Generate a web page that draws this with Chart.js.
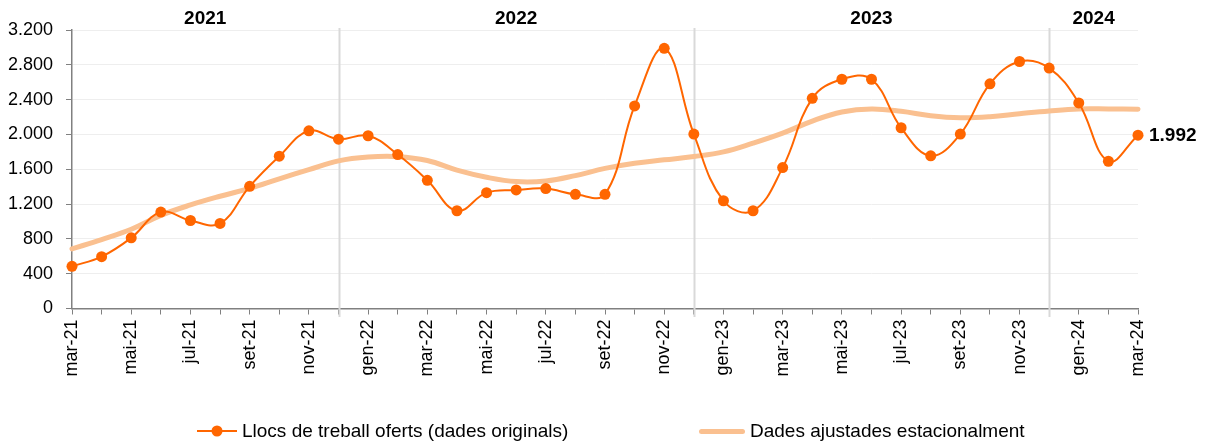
<!DOCTYPE html>
<html>
<head>
<meta charset="utf-8">
<script src="https://cdn.jsdelivr.net/npm/chart.js@4.4.1/dist/chart.umd.min.js"></script>
<style>
  html, body { margin: 0; padding: 0; background: #fff; }
  #wrap { position: relative; width: 1210px; height: 448px; overflow: hidden; }
  #chart { display: block; }
  .leg { position: absolute; top: 420px; height: 22px; display: flex; align-items: center;
         font-family: "Liberation Sans", Arial, sans-serif; font-size: 19px; color: #000; white-space: nowrap; }
  .mk { position: relative; height: 22px; margin-right: 5px; }
  .mk .ln { position: absolute; left: 0; right: 0; top: 50%; }
  .mk .dot { position: absolute; width: 11px; height: 11px; border-radius: 50%; top: 50%; left: 50%;
             transform: translate(-50%, -50%); background: #FF6600; }
</style>
</head>
<body>
<div id="wrap">
  <canvas id="chart" width="1210" height="448"></canvas>
  <div class="leg" style="left:197px">
    <div class="mk" style="width:40px"><div class="ln" style="height:2px;margin-top:-1px;background:#FF6600"></div><div class="dot"></div></div>
    <span id="leg1"></span>
  </div>
  <div class="leg" style="left:699px">
    <div class="mk" style="width:46px"><div class="ln" style="height:5px;margin-top:-2.5px;background:#FAC090;border-radius:3px"></div></div>
    <span id="leg2"></span>
  </div>
</div>
<script>
// ---- data ----
const categories = ['mar-21','abr-21','mai-21','jun-21','jul-21','ago-21','set-21','oct-21','nov-21','des-21',
  'gen-22','feb-22','mar-22','abr-22','mai-22','jun-22','jul-22','ago-22','set-22','oct-22','nov-22','des-22',
  'gen-23','feb-23','mar-23','abr-23','mai-23','jun-23','jul-23','ago-23','set-23','oct-23','nov-23','des-23',
  'gen-24','feb-24','mar-24'];
const originalValues = [485, 596, 812, 1108, 1011, 977, 1404, 1750, 2042, 1945,
  1985, 1769, 1473, 1123, 1331, 1362, 1378, 1312, 1312, 2327, 2989, 2004,
  1238, 1123, 1619, 2415, 2634, 2634, 2077, 1754, 2004, 2581, 2838, 2762,
  2362, 1692, 1992];
const adjustedValues = [685, 792, 910, 1070, 1190, 1290, 1380, 1490, 1595, 1696,
  1740, 1745, 1700, 1590, 1508, 1458, 1465, 1527, 1610, 1669, 1708, 1746,
  1800, 1900, 2015, 2154, 2258, 2293, 2266, 2215, 2192, 2204, 2238, 2270,
  2293, 2293, 2290];
const seriesNames = ['Llocs de treball oferts (dades originals)', 'Dades ajustades estacionalment'];
const yearLabels = ['2021', '2022', '2023', '2024'];
const yearBreaks = [9, 21, 33];          // index of December of each year
const yTicks = [0, 400, 800, 1200, 1600, 2000, 2400, 2800, 3200];

document.getElementById('leg1').textContent = seriesNames[0];
document.getElementById('leg2').textContent = seriesNames[1];

const fmt = v => String(v).replace(/\B(?=(\d{3})+(?!\d))/g, '.');
const FONT = '"Liberation Sans", Arial, sans-serif';
Chart.defaults.font.family = FONT;
Chart.defaults.color = '#000';

const overlay = {
  id: 'overlay',
  beforeDatasetsDraw(chart) {
    const { ctx, scales: { x } } = chart;
    ctx.save();
    ctx.strokeStyle = '#d9d9d9';
    ctx.lineWidth = 2;
    yearBreaks.forEach(i => {
      const px = Math.round(x.getPixelForValue(i)) + 0.5;
      ctx.beginPath(); ctx.moveTo(px, 28); ctx.lineTo(px, 317); ctx.stroke();
    });
    ctx.restore();
  },
  afterDatasetsDraw(chart) {
    const { ctx, scales: { x, y } } = chart;
    ctx.save();
    ctx.fillStyle = '#000';
    ctx.font = 'bold 19px ' + FONT;
    ctx.textAlign = 'center';
    ctx.textBaseline = 'middle';
    const bounds = [0, ...yearBreaks, categories.length - 1];
    yearLabels.forEach((lab, k) => {
      const c = (bounds[k] + bounds[k + 1]) / 2;
      ctx.fillText(lab, x.getPixelForValue(c), 19);
    });
    const last = originalValues.length - 1;
    ctx.textAlign = 'left';
    ctx.fillText(fmt(originalValues[last]), x.getPixelForValue(last) + 11, y.getPixelForValue(originalValues[last]) + 1);
    ctx.restore();
  }
};

new Chart(document.getElementById('chart'), {
  type: 'line',
  data: {
    labels: categories,
    datasets: [
      {
        label: seriesNames[0],
        data: originalValues,
        borderColor: '#FF6600',
        backgroundColor: '#FF6600',
        borderWidth: 2,
        pointRadius: 5.5,
        pointBorderWidth: 0,
        pointBackgroundColor: '#FF6600',
        tension: 0.4,
        clip: false
      },
      {
        label: seriesNames[1],
        data: adjustedValues,
        borderColor: '#FAC090',
        borderWidth: 5,
        pointRadius: 0,
        tension: 0.4,
        borderCapStyle: 'round',
        clip: false
      }
    ]
  },
  options: {
    responsive: false,
    animation: false,
    events: [],
    layout: { padding: { left: 0, right: 72, top: 30, bottom: 0 } },
    plugins: { legend: { display: false }, tooltip: { enabled: false } },
    scales: {
      x: {
        type: 'category',
        offset: false,
        grid: { drawOnChartArea: false, drawTicks: true, tickLength: 6, tickColor: '#808080', lineWidth: 1 },
        border: { color: '#808080', width: 1.5 },
        ticks: {
          autoSkip: false, maxRotation: 90, minRotation: 90, padding: 5,
          font: { size: 18 }, color: '#000',
          callback: (v, i) => (i % 2 === 0 ? categories[i] : '')
        },
        afterFit: s => { s.height = 448 - 308.5; }
      },
      y: {
        min: 0, max: 3200,
        afterBuildTicks: s => { s.ticks = yTicks.map(v => ({ value: v })); },
        grid: { color: '#eeeeee', lineWidth: 1, drawTicks: true, tickLength: 6, tickColor: '#808080' },
        border: { color: '#808080', width: 1.5 },
        ticks: { padding: 13, font: { size: 18 }, color: '#000', callback: v => fmt(v) },
        afterFit: s => { s.width = 72; }
      }
    }
  },
  plugins: [overlay]
});
</script>
</body>
</html>
